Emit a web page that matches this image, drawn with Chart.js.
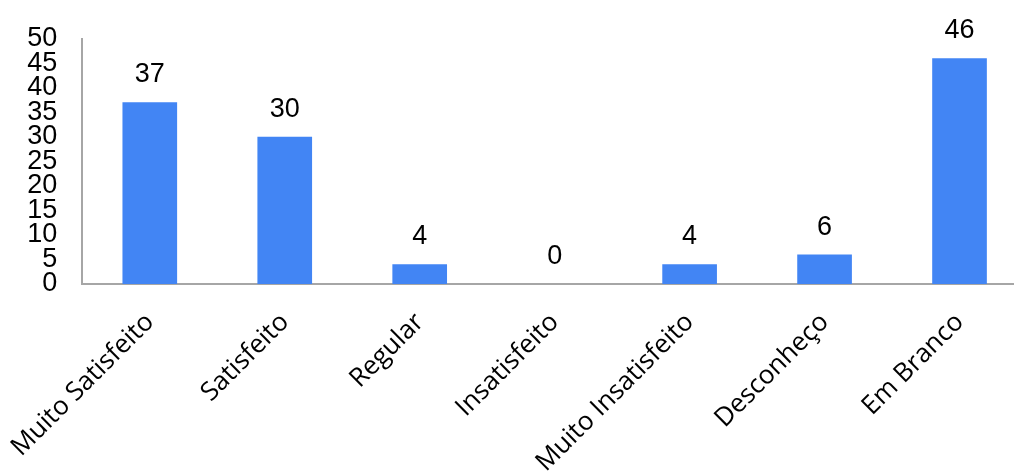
<!DOCTYPE html>
<html>
<head>
<meta charset="utf-8">
<script src="https://cdn.jsdelivr.net/npm/chart.js@4/dist/chart.umd.min.js"></script>
<style>
  html, body { margin: 0; padding: 0; background: #fff; overflow: hidden; }
  #wrap { position: absolute; left: -13px; top: 0; width: 1041px; height: 501px; }
</style>
</head>
<body>
<div id="wrap"><canvas id="satisfacao"></canvas></div>
<script>
const categorias = ['Muito Satisfeito', 'Satisfeito', 'Regular', 'Insatisfeito', 'Muito Insatisfeito', 'Desconheço', 'Em Branco'];
const respostas = [37, 30, 4, 0, 4, 6, 46];
const yMin = 0;
const yMax = 50;
const yStep = 5;

// numbers drawn above each bar
const valueLabels = {
    id: 'valueLabels',
    afterDatasetsDraw(chart) {
        const ctx = chart.ctx;
        const meta = chart.getDatasetMeta(0);
        ctx.save();
        ctx.font = '27px "Liberation Sans", Arial, sans-serif';
        ctx.fillStyle = '#000';
        ctx.textAlign = 'center';
        ctx.textBaseline = 'alphabetic';
        meta.data.forEach((bar, i) => {
            ctx.fillText(String(respostas[i]), bar.x, bar.y - 20);
        });
        ctx.restore();
    }
};

const ctx = document.getElementById('satisfacao').getContext('2d');
const satisfacaoChart = new Chart(ctx, {
    type: 'bar',
    data: {
        labels: categorias,
        datasets: [
            {
                label: 'Respostas',
                data: respostas,
                backgroundColor: '#4285f4',
                borderWidth: 0,
                categoryPercentage: 1,
                barPercentage: 0.405,
            }
        ]
    },
    options: {
        responsive: true,
        maintainAspectRatio: false,
        animation: false,
        layout: {
            padding: { top: 36, right: 1, left: 3, bottom: 0 }
        },
        scales: {
            x: {
                grid: { display: false, drawTicks: false },
                border: { display: true, color: '#a6a6a6', width: 2 },
                ticks: {
                    color: '#000',
                    font: { family: '"Open Sans", sans-serif', size: 26 },
                    minRotation: 45,
                    maxRotation: 45,
                    autoSkip: false,
                    padding: 23
                }
            },
            y: {
                min: yMin,
                max: yMax,
                grid: { display: false, drawTicks: false },
                border: { display: true, color: '#a6a6a6', width: 2 },
                ticks: {
                    stepSize: yStep,
                    autoSkip: false,
                    color: '#000',
                    font: { family: '"Liberation Sans", Arial, sans-serif', size: 27, lineHeight: 1 },
                    padding: 25
                }
            }
        },
        plugins: {
            legend: { display: false },
            tooltip: { enabled: false },
            title: { display: false }
        }
    },
    plugins: [valueLabels]
});
window.satisfacaoChart = satisfacaoChart;
</script>
</body>
</html>
